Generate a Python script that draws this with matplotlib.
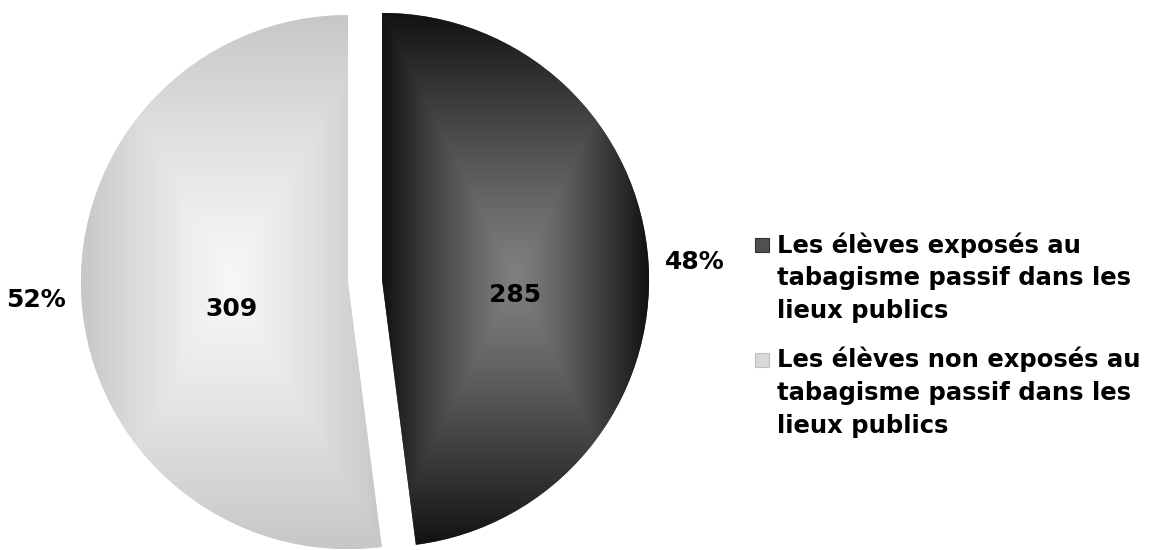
import numpy as np
import matplotlib
matplotlib.use("Agg")
import matplotlib.pyplot as plt
from matplotlib.patches import Rectangle

# data
labels = ["Les élèves exposés au\ntabagisme passif dans les\nlieux publics",
          "Les élèves non exposés au\ntabagisme passif dans les\nlieux publics"]
counts = [285, 309]
edge_cols = [(0.07, 0.07, 0.07), (0.78, 0.78, 0.78)]
centre_cols = [(0.50, 0.50, 0.50), (0.97, 0.97, 0.97)]
legend_cols = ["#505050", "#d8d8d8"]

W, H = 1150, 550
cx, cy, R = 365, 281, 267  # pie centre / radius in pixels

fig = plt.figure(figsize=(W / 100, H / 100), dpi=100)
ax = fig.add_axes([0, 0, 1, 1])

total = sum(counts)
wedges, txts, autotxts = ax.pie(
    counts, startangle=90, counterclock=False, explode=[0.064, 0.064],
    colors=legend_cols, labels=[f"{c / total * 100:.0f}%" for c in counts],
    labeldistance=1.06, autopct=lambda p: f"{p * total / 100:.0f}",
    pctdistance=0.42, radius=1, frame=True,
    textprops=dict(fontsize=18, fontweight="bold", color="black"))
ax.set_xlim(-cx / R, (W - cx) / R)
ax.set_ylim(-(H - cy) / R, cy / R)
ax.axis("off")

# Excel puts the value label near the middle of the slice's bounding box
for t, w, dy in zip(autotxts, wedges, [-0.06, -0.10]):
    ext = w.get_path().get_extents()
    t.set_position(((ext.x0 + ext.x1) / 2, (ext.y0 + ext.y1) / 2 + dy))

# rectangular "from centre" gradient fill clipped to each wedge
for w, c0, c1 in zip(wedges, centre_cols, edge_cols):
    ext = w.get_path().get_extents()
    n = 300
    xs = np.linspace(-1, 1, n)
    gx, gy = np.meshgrid(xs, xs)
    t = np.maximum(np.abs(gx), np.abs(gy)) ** 1.2
    img = np.zeros((n, n, 3))
    for k in range(3):
        img[..., k] = c0[k] + (c1[k] - c0[k]) * t
    im = ax.imshow(img, extent=(ext.x0, ext.x1, ext.y0, ext.y1),
                   origin="lower", zorder=w.get_zorder() + 0.1,
                   interpolation="bilinear")
    im.set_clip_path(w)

for t in list(txts) + list(autotxts):
    t.set_zorder(5)

# legend, Excel style (marker next to the first line)
y_tops = [232, 347]
for lab, col, yt in zip(labels, legend_cols, y_tops):
    fig.text(777 / W, 1 - yt / H, lab, fontsize=17.5, fontweight="bold",
             va="top", ha="left", linespacing=1.45)
    fig.patches.append(Rectangle((755 / W, 1 - (yt + 20) / H), 14 / W, 14 / H,
                                 transform=fig.transFigure, facecolor=col,
                                 edgecolor="#333333" if col == legend_cols[0] else "#c0c0c0",
                                 linewidth=0.8))

fig.savefig("out.png", dpi=100)
